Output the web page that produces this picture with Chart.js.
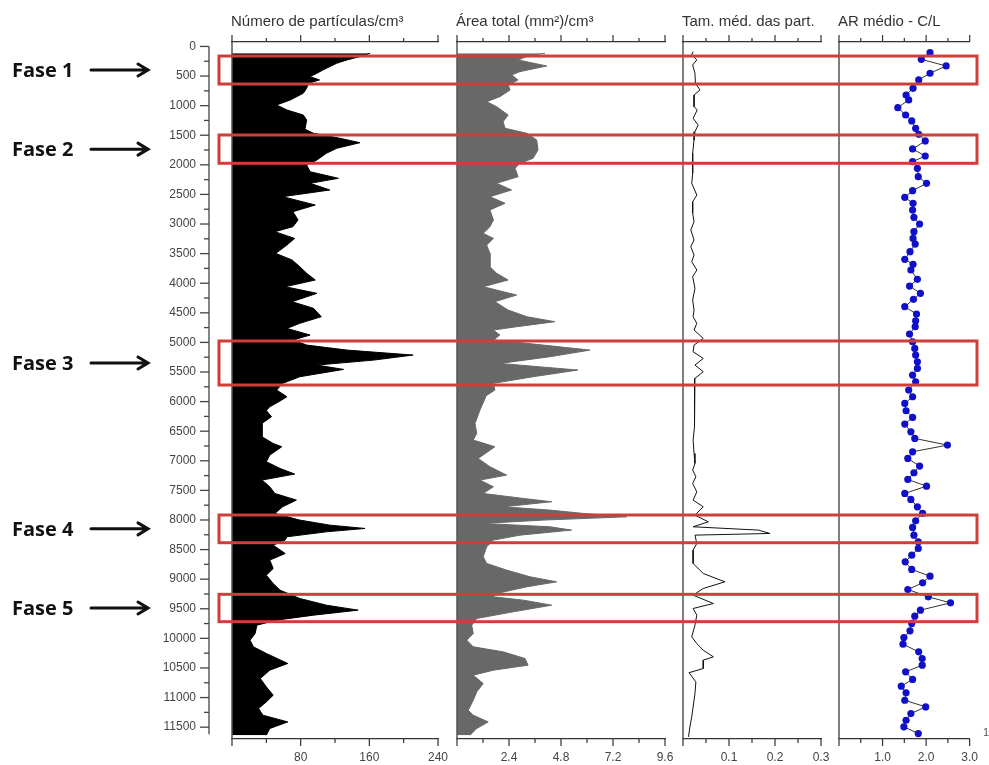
<!DOCTYPE html>
<html lang="pt">
<head>
<meta charset="utf-8">
<title>Perfil de partículas</title>
<script src="https://cdn.jsdelivr.net/npm/chart.js@4.4.0/dist/chart.umd.min.js"></script>
<style>
  html, body { margin: 0; padding: 0; background: #fff; }
  #wrap { position: relative; width: 989px; height: 765px; overflow: hidden; }
  #wrap canvas { position: absolute; left: 0; top: 0; }
</style>
</head>
<body>
<div id="wrap">
  <canvas id="numChart" width="989" height="765"></canvas>
  <canvas id="areaChart" width="989" height="765"></canvas>
  <canvas id="sizeChart" width="989" height="765"></canvas>
  <canvas id="arChart" width="989" height="765"></canvas>
  <canvas id="overlay" width="989" height="765"></canvas>
</div>
<script>
// shared depth axis
const depthMin = -75;
const depthMax = 11700;
const depthLabelStep = 500;
const depthTickStep = 250;
const depthLast = 11500;

// Número de partículas/cm³
const numDepth = [115, 172, 228, 284, 341, 397, 453, 510, 566, 622, 707, 791, 904, 989, 1073, 1158, 1242, 1400, 1467, 1552,
  1626, 1721, 1805, 1918, 2003, 2116, 2228, 2312, 2425, 2538, 2679, 2792, 2932, 3045, 3130, 3243, 3355, 3496, 3608, 3721,
  3833, 3946, 4059, 4171, 4312, 4425, 4566, 4678, 4763, 4876, 4960, 5045, 5130, 5214, 5299, 5383, 5456, 5580, 5692, 5805,
  5918, 5990, 6087, 6150, 6256, 6368, 6594, 6707, 6763, 6904, 7016, 7129, 7224, 7326, 7439, 7552, 7664, 7777, 7889, 8002,
  8087, 8143, 8200, 8284, 8340, 8425, 8566, 8678, 8819, 8932, 9073, 9185, 9326, 9439, 9523, 9608, 9692, 9777, 9917, 10030,
  10143, 10255, 10424, 10537, 10678, 10819, 10960, 11073, 11185, 11298, 11411, 11523, 11636];
const numValues = [161, 149, 134, 122, 114, 106, 99, 91, 102, 89, 87, 83, 68, 52, 64, 83, 87, 85, 95, 126,
  149, 122, 110, 99, 87, 91, 124, 91, 114, 59, 97, 71, 77, 71, 50, 73, 64, 51, 70, 79,
  87, 97, 62, 99, 70, 95, 104, 79, 64, 91, 71, 87, 134, 211, 165, 99, 130, 79, 59, 52,
  64, 56, 44, 40, 46, 35, 35, 48, 58, 44, 40, 56, 73, 35, 44, 50, 75, 59, 50, 79,
  114, 155, 110, 64, 62, 48, 62, 44, 48, 40, 48, 56, 79, 110, 147, 95, 52, 29, 27, 21,
  25, 40, 65, 44, 33, 40, 48, 40, 31, 36, 65, 44, 40];

// Área total (mm²)/cm³
const areaDepth = [115, 160, 228, 330, 425, 481, 566, 651, 735, 848, 933, 1017, 1158, 1271, 1383, 1467, 1580, 1749, 1890, 1974,
  2059, 2200, 2312, 2425, 2538, 2650, 2763, 2932, 3045, 3158, 3243, 3355, 3496, 3721, 3833, 3946, 4059, 4200, 4312, 4453,
  4566, 4650, 4735, 4791, 4876, 4960, 5016, 5130, 5242, 5355, 5467, 5580, 5692, 5805, 5900, 6143, 6368, 6537, 6650, 6763,
  6960, 7101, 7242, 7326, 7439, 7552, 7636, 7692, 7777, 7833, 7889, 7946, 8002, 8058, 8115, 8171, 8256, 8340, 8453, 8622,
  8734, 8847, 8960, 9045, 9129, 9242, 9298, 9354, 9439, 9551, 9664, 9777, 9917, 10030, 10143, 10228, 10340, 10453, 10537, 10622,
  10763, 10904, 11045, 11214, 11298, 11411, 11523, 11636];
const areaValues = [4.06, 3.28, 2.82, 4.14, 2.91, 2.52, 2.82, 2.36, 2.45, 1.98, 1.37, 1.83, 2.36, 2.13, 2.22, 3.22, 3.68, 3.74, 3.51, 2.91,
  2.68, 2.82, 1.83, 2.52, 1.52, 2.22, 1.52, 1.68, 1.52, 1.21, 1.68, 1.37, 1.52, 1.52, 1.83, 2.36, 1.21, 2.75, 1.75, 2.36,
  3.22, 4.52, 2.75, 1.68, 1.98, 1.68, 3.22, 6.14, 4.29, 1.98, 5.58, 3.51, 1.68, 1.75, 1.35, 1.06, 0.83, 0.91, 0.75, 1.75,
  0.98, 1.52, 2.29, 1.06, 1.68, 1.21, 3.06, 4.37, 2.13, 4.29, 5.83, 7.83, 3.98, 1.21, 4.29, 5.29, 2.91, 1.68, 1.37, 1.21,
  1.37, 2.29, 3.37, 4.6, 3.22, 1.83, 1.68, 3.06, 4.37, 2.6, 0.91, 0.68, 0.75, 0.45, 0.75, 2.13, 3.14, 3.28, 1.68, 0.75,
  1.21, 0.91, 0.75, 0.52, 0.75, 1.44, 0.91, 0.6];

// Tam. méd. das part.
const sizeDepth = [88, 144, 228, 313, 453, 622, 735, 820, 1017, 1073, 1214, 1327, 1440, 1580, 1805, 2143, 2312, 2510, 2623, 2819,
  2960, 3101, 3270, 3383, 3524, 3636, 3777, 3890, 4087, 4284, 4453, 4566, 4678, 4791, 4932, 5045, 5158, 5270, 5383, 5496,
  5608, 5805, 5974, 6199, 6425, 6650, 6876, 7045, 7157, 7270, 7383, 7524, 7664, 7777, 7918, 8031, 8115, 8171, 8228, 8256,
  8397, 8509, 8734, 8904, 9045, 9157, 9270, 9411, 9495, 9608, 9777, 9974, 10087, 10200, 10312, 10368, 10509, 10580, 10735, 10932,
  11157, 11326, 11495, 11664];
const sizeValues = [0.022, 0.019, 0.030, 0.021, 0.026, 0.027, 0.037, 0.024, 0.024, 0.031, 0.022, 0.033, 0.026, 0.024, 0.021, 0.021, 0.019, 0.030, 0.021, 0.021,
  0.024, 0.017, 0.024, 0.017, 0.024, 0.019, 0.030, 0.021, 0.026, 0.021, 0.024, 0.022, 0.030, 0.024, 0.044, 0.024, 0.022, 0.044, 0.026, 0.044,
  0.026, 0.026, 0.024, 0.024, 0.026, 0.022, 0.024, 0.026, 0.021, 0.028, 0.021, 0.030, 0.022, 0.044, 0.026, 0.055, 0.022, 0.164, 0.189, 0.026,
  0.030, 0.022, 0.022, 0.044, 0.091, 0.044, 0.022, 0.066, 0.022, 0.030, 0.026, 0.019, 0.030, 0.044, 0.066, 0.044, 0.044, 0.013, 0.028, 0.026,
  0.022, 0.019, 0.015, 0.012];

// AR médio - C/L
const arDepth = [105, 217, 330, 453, 566, 707, 820, 904, 1034, 1158, 1259, 1383, 1484, 1597, 1732, 1851, 1947, 2059, 2200, 2312,
  2437, 2549, 2650, 2763, 2887, 3000, 3130, 3243, 3338, 3468, 3597, 3681, 3777, 3934, 4048, 4171, 4273, 4397, 4521, 4634,
  4735, 4859, 4989, 5101, 5214, 5327, 5439, 5552, 5665, 5805, 5918, 6031, 6155, 6267, 6380, 6510, 6622, 6735, 6848, 6960,
  7090, 7202, 7315, 7428, 7552, 7653, 7777, 7889, 8014, 8126, 8256, 8369, 8481, 8594, 8707, 8836, 8949, 9062, 9174, 9298,
  9400, 9523, 9625, 9748, 9873, 9985, 10098, 10228, 10340, 10453, 10565, 10694, 10807, 10920, 11045, 11158, 11270, 11383, 11495, 11608];
const arValues = [2.09, 1.89, 2.46, 2.09, 1.83, 1.70, 1.54, 1.60, 1.35, 1.53, 1.67, 1.76, 1.83, 1.98, 1.69, 1.98, 1.69, 1.80, 1.82, 2.01,
  1.69, 1.51, 1.70, 1.69, 1.72, 1.85, 1.72, 1.70, 1.75, 1.63, 1.51, 1.70, 1.65, 1.80, 1.62, 1.87, 1.71, 1.51, 1.78, 1.76,
  1.75, 1.62, 1.69, 1.74, 1.76, 1.80, 1.80, 1.69, 1.76, 1.60, 1.69, 1.51, 1.54, 1.69, 1.51, 1.65, 1.74, 2.49, 1.69, 1.58,
  1.85, 1.72, 1.58, 2.01, 1.51, 1.65, 1.80, 1.92, 1.76, 1.69, 1.72, 1.82, 1.82, 1.67, 1.52, 1.67, 2.09, 1.92, 1.58, 2.05,
  2.56, 1.87, 1.74, 1.67, 1.63, 1.49, 1.47, 1.83, 1.91, 1.91, 1.53, 1.69, 1.43, 1.54, 1.51, 1.99, 1.65, 1.54, 1.49, 1.82];

// phases (depth ranges)
const phaseNames = ['Fase 1', 'Fase 2', 'Fase 3', 'Fase 4', 'Fase 5'];
const phaseTop = [162, 1496, 4976, 7916, 9256];
const phaseBottom = [635, 1974, 5720, 8384, 9718];

const FONT = '"Liberation Sans", Arial, sans-serif';

function isMajor(v, step) {
  const r = v / step;
  return Math.abs(r - Math.round(r)) < 1e-6;
}

// axis ticks, zero line and title for every panel
const panelDecor = {
  id: 'panelDecor',
  afterDraw(chart, args, opts) {
    const ctx = chart.ctx;
    const area = chart.chartArea;
    const bottom = chart.scales.x;
    const top = chart.scales.x2;
    ctx.save();
    ctx.strokeStyle = '#555';
    ctx.lineWidth = 1.5;
    ctx.beginPath();
    ctx.moveTo(area.left, area.top);
    ctx.lineTo(area.left, area.bottom);
    ctx.stroke();

    ctx.strokeStyle = '#333';
    ctx.lineWidth = 1.2;
    bottom.ticks.forEach((t) => {
      const x = bottom.getPixelForValue(t.value);
      const len = isMajor(t.value, opts.major) ? 7 : 4;
      ctx.beginPath();
      ctx.moveTo(x, bottom.top);
      ctx.lineTo(x, bottom.top + len);
      ctx.moveTo(x, top.bottom);
      ctx.lineTo(x, top.bottom - len);
      ctx.stroke();
    });

    ctx.fillStyle = '#333';
    ctx.font = '15px ' + FONT;
    ctx.textBaseline = 'alphabetic';
    ctx.textAlign = 'left';
    ctx.fillText(opts.title, area.left - 1, 26);
    ctx.restore();
  },
};

function makePanel(id, cfg) {
  return new Chart(document.getElementById(id), {
    type: 'line',
    data: {
      datasets: [{
        data: cfg.depth.map((d, i) => ({ x: cfg.values[i], y: d })),
        borderColor: cfg.line,
        backgroundColor: cfg.fill || 'rgba(0,0,0,0)',
        borderWidth: cfg.lineWidth || 1,
        fill: cfg.fill ? 'origin' : false,
        pointRadius: cfg.pointRadius || 0,
        pointBackgroundColor: cfg.pointColor,
        pointBorderWidth: 0,
        tension: 0,
      }],
    },
    options: {
      indexAxis: 'y',
      responsive: false,
      animation: false,
      events: [],
      layout: { padding: { left: cfg.left, right: 989 - cfg.right, top: 0, bottom: 0 } },
      scales: {
        y: { type: 'linear', reverse: true, min: depthMin, max: depthMax, display: false },
        x: {
          type: 'linear', position: 'bottom', min: 0, max: cfg.max,
          grid: { display: false, drawTicks: false },
          border: { display: true, color: '#333', width: 1.3 },
          ticks: {
            stepSize: cfg.step, autoSkip: false, maxRotation: 0, padding: 11,
            color: '#444', font: { family: FONT, size: 12 },
            callback: (v) => (v > 0 && isMajor(v, cfg.major) ? cfg.fmt(v) : ''),
          },
          afterFit: (s) => { s.height = 26; },
        },
        x2: {
          type: 'linear', position: 'top', min: 0, max: cfg.max,
          grid: { display: false, drawTicks: false },
          border: { display: true, color: '#333', width: 1.3 },
          ticks: { stepSize: cfg.step, display: false },
          afterFit: (s) => { s.height = 42; },
        },
      },
      plugins: {
        legend: { display: false },
        tooltip: { enabled: false },
        panelDecor: { title: cfg.title, major: cfg.major },
      },
    },
    plugins: [panelDecor],
  });
}

makePanel('numChart', {
  title: 'Número de partículas/cm³', depth: numDepth, values: numValues,
  left: 232, right: 438, max: 240, step: 40, major: 80, fmt: (v) => String(Math.round(v)),
  line: '#000', fill: '#000',
});
makePanel('areaChart', {
  title: 'Área total (mm²)/cm³', depth: areaDepth, values: areaValues,
  left: 457, right: 665, max: 9.6, step: 1.2, major: 2.4, fmt: (v) => v.toFixed(1),
  line: '#686868', fill: '#686868',
});
makePanel('sizeChart', {
  title: 'Tam. méd. das part.', depth: sizeDepth, values: sizeValues,
  left: 683, right: 821, max: 0.3, step: 0.05, major: 0.1, fmt: (v) => v.toFixed(1),
  line: '#111',
});
makePanel('arChart', {
  title: 'AR médio - C/L', depth: arDepth, values: arValues,
  left: 839, right: 977, max: 3.0, step: 0.5, major: 1.0, fmt: (v) => v.toFixed(1),
  line: '#333', pointRadius: 3.6, pointColor: '#1010c8',
});

// depth axis, phase boxes, phase labels and arrows
const overlayDecor = {
  id: 'overlayDecor',
  afterDraw(chart) {
    const ctx = chart.ctx;
    const y = chart.scales.y;
    const axisX = chart.chartArea.left;
    ctx.save();
    ctx.strokeStyle = '#444';
    ctx.lineWidth = 1.3;
    ctx.beginPath();
    ctx.moveTo(axisX, y.getPixelForValue(0));
    ctx.lineTo(axisX, y.getPixelForValue(11620));
    ctx.stroke();
    for (let d = 0; d <= depthLast; d += depthTickStep) {
      const py = y.getPixelForValue(d);
      const len = d % depthLabelStep === 0 ? 9 : 5;
      ctx.beginPath();
      ctx.moveTo(axisX - len, py);
      ctx.lineTo(axisX, py);
      ctx.stroke();
    }

    phaseNames.forEach((name, i) => {
      const top = y.getPixelForValue(phaseTop[i]);
      const bot = y.getPixelForValue(phaseBottom[i]);
      const mid = (top + bot) / 2;
      ctx.strokeStyle = '#cf3f3a';
      ctx.lineWidth = 3;
      ctx.strokeRect(219, top, 977 - 219, bot - top);

      ctx.fillStyle = '#111';
      ctx.font = 'bold 20px "Open Sans", ' + FONT;
      ctx.textAlign = 'left';
      ctx.textBaseline = 'middle';
      ctx.fillText(name, 12, mid + 1);

      ctx.strokeStyle = '#111';
      ctx.lineWidth = 3;
      ctx.lineCap = 'round';
      ctx.beginPath();
      ctx.moveTo(91, mid);
      ctx.lineTo(147, mid);
      ctx.moveTo(138, mid - 6);
      ctx.lineTo(148, mid);
      ctx.lineTo(138, mid + 6);
      ctx.stroke();
    });

    ctx.fillStyle = '#555';
    ctx.font = '11px ' + FONT;
    ctx.textAlign = 'left';
    ctx.textBaseline = 'middle';
    ctx.fillText('1', 983, 733);
    ctx.restore();
  },
};

new Chart(document.getElementById('overlay'), {
  type: 'scatter',
  data: { datasets: [] },
  options: {
    responsive: false,
    animation: false,
    events: [],
    layout: { padding: { left: 0, right: 12, top: 42, bottom: 26 } },
    scales: {
      x: { display: false, min: 0, max: 1 },
      y: {
        position: 'left', reverse: true, min: depthMin, max: depthMax,
        grid: { display: false, drawTicks: false },
        border: { display: false },
        ticks: {
          autoSkip: false, padding: 13,
          color: '#444', font: { family: FONT, size: 12 },
          callback: (v) => String(v),
        },
        afterBuildTicks: (s) => {
          const ticks = [];
          for (let d = 0; d <= depthLast; d += depthLabelStep) ticks.push({ value: d });
          s.ticks = ticks;
        },
        afterFit: (s) => { s.width = 209; },
      },
    },
    plugins: { legend: { display: false }, tooltip: { enabled: false } },
  },
  plugins: [overlayDecor],
});
</script>
</body>
</html>
